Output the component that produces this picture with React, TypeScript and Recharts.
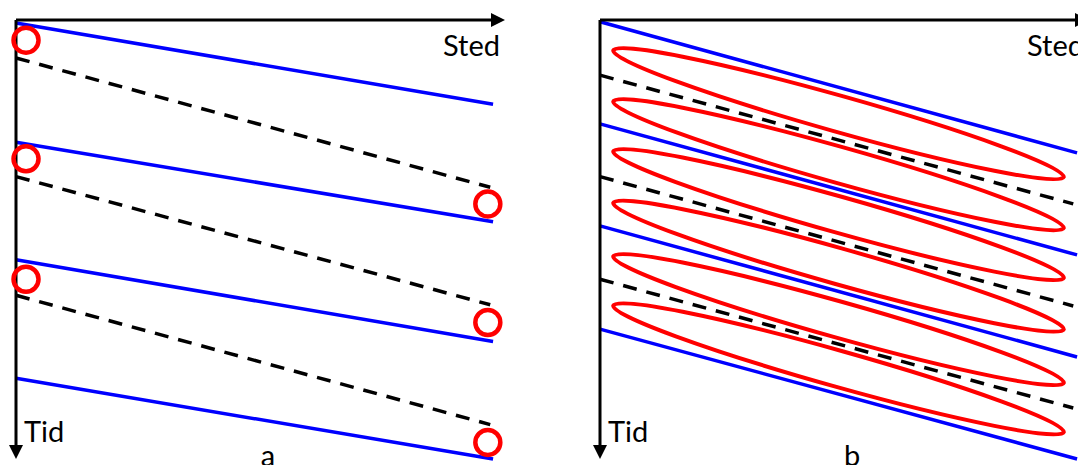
import React from 'react';
import { ComposedChart, Line, Scatter, XAxis, YAxis } from 'recharts';

// Sted (place) runs 0..100 along each line, axis arrow a bit beyond
const stedMax = 102.5;
const tidMax = 37;
const lineEnd = 100;

// Panel a
const blueStartA = [0.25, 10.3, 20.2, 30.2];
const blueEndA = [7.1, 17.0, 27.1, 37.0];
const dashStartA = [3.2, 13.2, 23.2];
const dashEndA = [14.1, 24.0, 34.1];
const dashEndStedA = 99.4;
const circleLeftTidA = [1.7, 11.7, 21.85];
const circleRightTidA = [15.5, 25.5, 35.6];
const circleLeftSted = 2.1;
const circleRightSted = 98.9;

// Panel b
const blueStartB = [0.15, 8.75, 17.35, 26.05];
const blueEndB = [11.2, 19.8, 28.4, 37.0];
const dashStartB = [4.65, 13.2, 21.85];
const dashEndB = [15.5, 24.1, 32.7];
const dashEndStedB = 99.2;
const ellipseTidB = [7.9, 12.2, 16.4, 20.75, 25.25, 29.4];
const ellipseSted = 50;

const BLUE = '#0000ff';
const RED = '#ff0000';

const ArrowRight = (props: any) => {
  const { cx, cy } = props;
  return <polygon points={`${cx},${cy} ${cx - 14},${cy - 7} ${cx - 14},${cy + 7}`} fill="#000" />;
};

const ArrowDown = (props: any) => {
  const { cx, cy } = props;
  return <polygon points={`${cx},${cy} ${cx - 7},${cy - 14} ${cx + 7},${cy - 14}`} fill="#000" />;
};

const RingDot = (props: any) => {
  const { cx, cy } = props;
  return <circle cx={cx} cy={cy} r={12.5} fill="none" stroke={RED} strokeWidth={4.5} />;
};

const Ellipse = (props: any) => {
  const { cx, cy } = props;
  return (
    <ellipse cx={cx} cy={cy} rx={234} ry={18} fill="none" stroke={RED} strokeWidth={4}
      transform={`rotate(15.7 ${cx} ${cy})`} />
  );
};

function seg(x0: number, y0: number, x1: number, y1: number) {
  return [{ sted: x0, tid: y0 }, { sted: x1, tid: y1 }];
}

function Panel({ blueStart, blueEnd, dashStart, dashEnd, dashEndSted, letter, children }: any) {
  return (
    <ComposedChart width={540} height={465} margin={{ top: 20, right: 35, bottom: 6, left: 16 }}
      style={{ fontFamily: 'Lato' }}>
      <XAxis type="number" dataKey="sted" domain={[0, stedMax]} hide />
      <YAxis type="number" dataKey="tid" domain={[0, tidMax]} reversed hide />
      {blueStart.map((s: number, i: number) => (
        <Line key={'b' + i} data={seg(0, s, lineEnd, blueEnd[i])} dataKey="tid" stroke={BLUE}
          strokeWidth={3.5} dot={false} isAnimationActive={false} />
      ))}
      {dashStart.map((s: number, i: number) => (
        <Line key={'d' + i} data={seg(0, s, dashEndSted, dashEnd[i])} dataKey="tid" stroke="#000"
          strokeWidth={3.5} strokeDasharray="14 10" dot={false} isAnimationActive={false} />
      ))}
      {children}
      {/* axes with arrow heads */}
      <Line data={seg(0, 0, stedMax - 1, 0)} dataKey="tid" stroke="#000" strokeWidth={3}
        dot={false} isAnimationActive={false} />
      <Line data={seg(0, 0, 0, tidMax - 0.5)} dataKey="tid" stroke="#000" strokeWidth={3}
        dot={false} isAnimationActive={false} />
      <Scatter data={[{ sted: stedMax, tid: 0 }]} shape={ArrowRight} isAnimationActive={false} />
      <Scatter data={[{ sted: 0, tid: tidMax }]} shape={ArrowDown} isAnimationActive={false} />
      <text x={443} y={56} fontSize={29} fill="#000">Sted</text>
      <text x={24} y={442} fontSize={29} fill="#000">Tid</text>
      <text x={268} y={466} fontSize={29} fill="#000" textAnchor="middle">{letter}</text>
    </ComposedChart>
  );
}

export default function App() {
  const ringsA = [
    ...circleLeftTidA.map((t) => ({ sted: circleLeftSted, tid: t })),
    ...circleRightTidA.map((t) => ({ sted: circleRightSted, tid: t })),
  ];
  const ellipses = ellipseTidB.map((t) => ({ sted: ellipseSted, tid: t }));
  return (
    <div style={{ position: 'absolute', left: 0, top: 0, width: 1078, height: 465, overflow: 'hidden', background: '#fff' }}>
      <div style={{ position: 'absolute', left: 0, top: 0 }}>
        <Panel blueStart={blueStartA} blueEnd={blueEndA} dashStart={dashStartA} dashEnd={dashEndA}
          dashEndSted={dashEndStedA} letter="a">
          <Scatter data={ringsA} shape={RingDot} isAnimationActive={false} />
        </Panel>
      </div>
      <div style={{ position: 'absolute', left: 584, top: 0 }}>
        <Panel blueStart={blueStartB} blueEnd={blueEndB} dashStart={dashStartB} dashEnd={dashEndB}
          dashEndSted={dashEndStedB} letter="b">
          <Scatter data={ellipses} shape={Ellipse} isAnimationActive={false} />
        </Panel>
      </div>
    </div>
  );
}
